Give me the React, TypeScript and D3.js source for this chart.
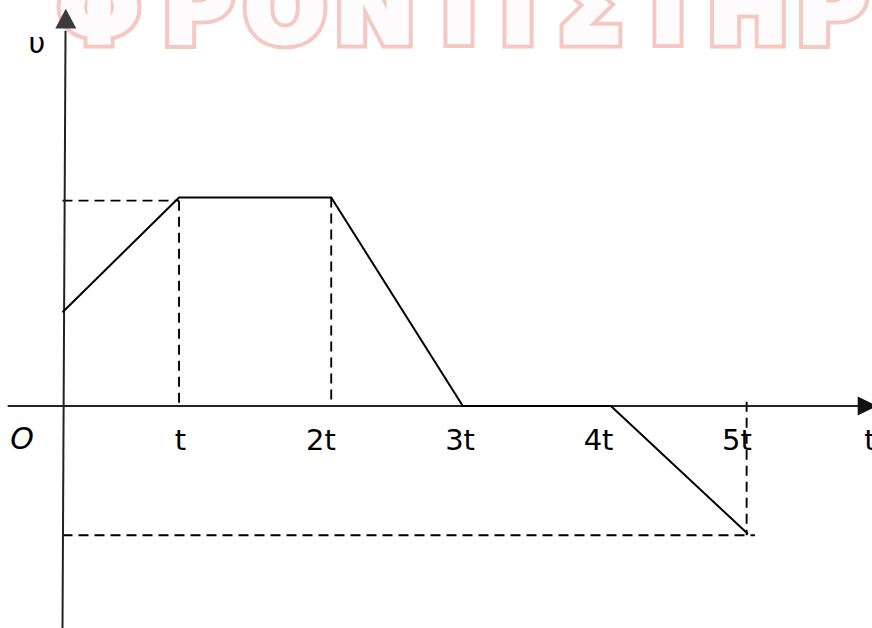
import React from 'react';
import * as d3 from 'd3';

// velocity-time graph, x in units of t, y in units of the plateau speed
const pathT = [0, 0.85, 1.96, 2.92, 4.0, 5.0];
const pathV = [0.45, 1.0, 1.0, 0.0, 0.0, -0.614];

const tickLabels = ['t', '2t', '3t', '4t', '5t'];
const tickLabelT = [0.86, 1.885, 2.9, 3.91, 4.92];

// dashed guides: [t1, v1, t2, v2]
const guideTop = [0, 0.985, 0.85, 0.985];
const guideBottom = [0, -0.62, 5.05, -0.62];
const guideVerticals = [
    [0.85, 0.985, 0.85, 0],
    [1.96, 1.0, 1.96, 0],
    [4.99, 0.02, 4.99, -0.62]
];

const watermarkLetters = ['Φ', 'Ρ', 'Ο', 'Ν', 'Τ', 'Ι', 'Σ', 'Τ', 'Η', 'Ρ'];
const watermarkX = [99, 198, 285, 375, 459, 518, 590, 668, 748, 832];

export default function App() {

    const width = 872,
        height = 628;

    const x = d3.scaleLinear().domain([0, 5]).range([62.5, 748]);
    const y = d3.scaleLinear().domain([0, 1]).range([406, 197.5]);

    const line = d3.line<[number, number]>()
        .x(d => x(d[0]))
        .y(d => y(d[1]));

    const pts: [number, number][] = pathT.map((t, i) => [t, pathV[i]]);

    const dashed = (g: number[]) => line([[g[0], g[1]], [g[2], g[3]]]) || '';

    // axes
    const yAxisPath = line([[0, -1.07], [0.022, 1.8]]) || '';
    const xAxisPath = line([[-0.4, 0], [5.82, 0]]) || '';

    const yTip = [x(0.024), y(1.905)];
    const yArrow = `M${yTip[0]},${yTip[1]} L${yTip[0] - 10.5},${y(1.81)} L${yTip[0] + 10.5},${y(1.81)} Z`;
    const xArrow = `M${x(5.8)},${y(0) - 9.5} L${x(5.94)},${y(0)} L${x(5.8)},${y(0) + 9.5} Z`;

    const mark = (layer: string, stroke: string, sw: number, fill: string) =>
        <g className={layer}>
            {watermarkLetters.map((c, i) =>
                <text key={i} x={watermarkX[i]} y={42} textAnchor="middle"
                    fontFamily="DejaVu Sans" fontWeight="bold" fontSize={96}
                    fill={fill} stroke={stroke} strokeWidth={sw} strokeLinejoin="miter">{c}</text>
            )}
        </g>;

    return <svg width={width} height={height} style={{ position: 'absolute', left: 0, top: 0, background: '#fff' }}>

        {mark('watermark-edge', '#f4c9c1', 13, '#f4c9c1')}
        {mark('watermark-body', '#fdfbfb', 5, '#fdfbfb')}

        <g className="guides" fill="none" stroke="#000" strokeWidth={1.9} strokeDasharray="10,6">
            <path d={dashed(guideTop)} />
            <path d={dashed(guideBottom)} />
            {guideVerticals.map((g, i) => <path key={i} d={dashed(g)} />)}
        </g>

        <g className="axes">
            <path d={xAxisPath} stroke="#222" strokeWidth={2} fill="none" />
            <path d={yAxisPath} stroke="#222" strokeWidth={2} fill="none" />
            <path d={yArrow} fill="#3a3a3a" />
            <path d={xArrow} fill="#111" />
        </g>

        <path d={line(pts) || ''} fill="none" stroke="#000" strokeWidth={2} strokeLinejoin="miter" />

        <g className="labels" fontFamily="DejaVu Sans" fontSize={29} fill="#000">
            {tickLabels.map((l, i) =>
                <text key={l} x={x(tickLabelT[i])} y={450} textAnchor="middle">{l}</text>
            )}
            <text x={x(5.89)} y={450} textAnchor="middle">t</text>
            <text x={22} y={449} textAnchor="middle" fontStyle="italic" fontSize={30}>O</text>
            <text x={37} y={53} textAnchor="middle" fontSize={29}>υ</text>
        </g>

    </svg>
}
